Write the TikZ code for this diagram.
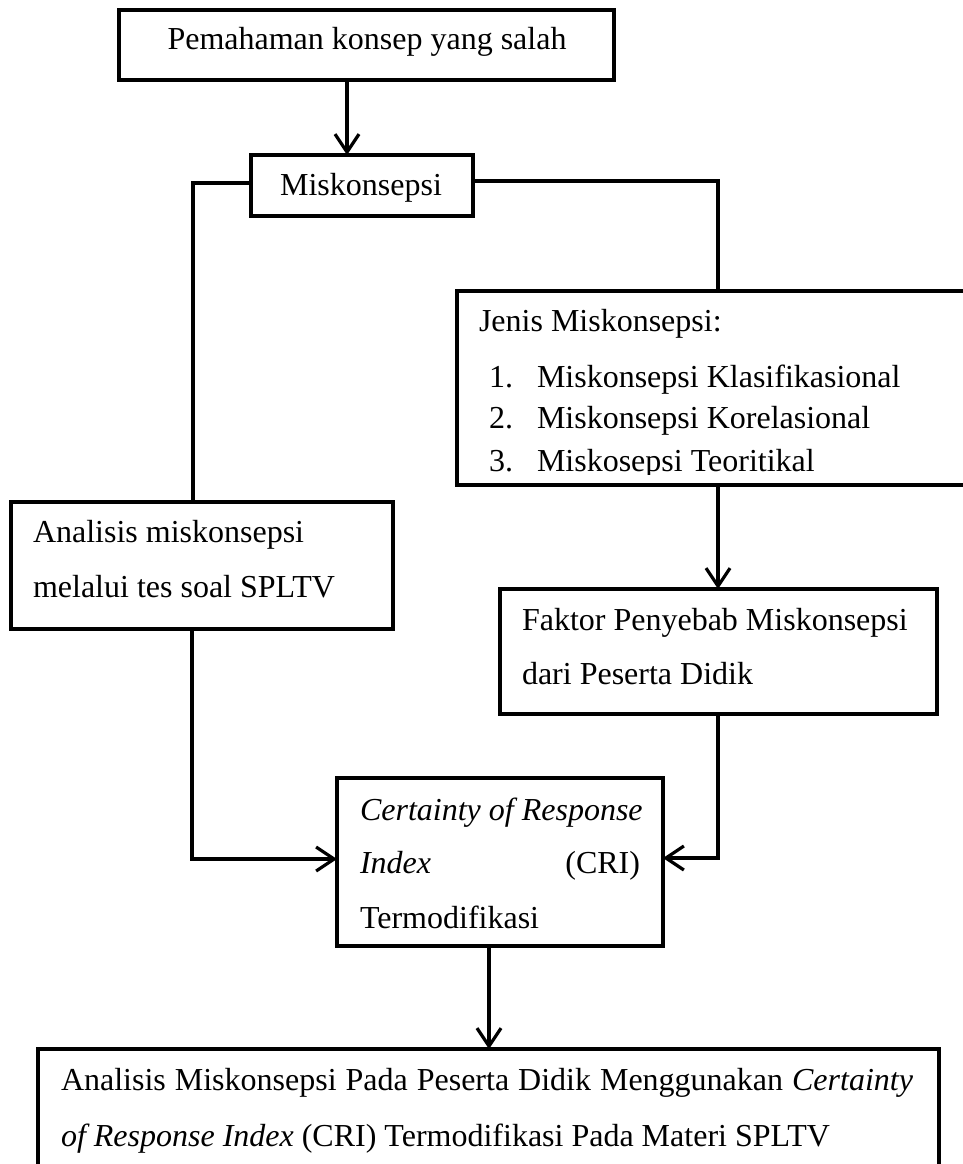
\documentclass[tikz,border=0pt]{standalone}
\usepackage{fontspec}
\setmainfont{Liberation Serif}
\usetikzlibrary{arrows.meta}
\tikzset{
  box/.style={draw, line width=3.8pt, inner sep=0pt, outer sep=0pt, minimum width=#1},
  conn/.style={line width=3.2pt, line join=miter},
  arr/.style={conn, -{Straight Barb[length=18pt,width=24pt]}},
  txt/.style={inner sep=0pt, outer sep=0pt, font=\fontsize{32}{38}\selectfont},
}
\begin{document}
\begin{tikzpicture}[x=1pt,y=-1pt]
\clip (0,0) rectangle (963,1164);
\fill[white] (0,0) rectangle (963,1164);
% boxes
\node[box=495pt, minimum height=70pt] (box1) at (366.5,45) {};
\node[box=222pt, minimum height=61pt] (misk) at (362,185.5) {};
\node[box=543pt, minimum height=194pt] (jenis) at (728.5,388) {};
\node[box=382pt, minimum height=127pt] (anal) at (202,565.5) {};
\node[box=437pt, minimum height=125pt] (faktor) at (718.5,651.5) {};
\node[box=326pt, minimum height=168pt] (cri) at (500,862) {};
\node[box=901pt, minimum height=151pt] (bottom) at (488.5,1124.5) {};
% texts
\node[txt, anchor=base] (t1) at (367,50) {Pemahaman konsep yang salah};
\node[txt, anchor=base] (t2) at (361,195) {Miskonsepsi};
\begin{scope}
\clip (440,280) rectangle (963,474);
\node[txt, anchor=base west] (j0) at (479,331) {Jenis Miskonsepsi:};
\node[txt, anchor=base west] (j1n) at (489,387) {1.};
\node[txt, anchor=base west] (j1) at (537,387) {Miskonsepsi Klasifikasional};
\node[txt, anchor=base west] (j2n) at (489,428) {2.};
\node[txt, anchor=base west] (j2) at (537,428) {Miskonsepsi Korelasional};
\node[txt, anchor=base west] (j3n) at (489,471) {3.};
\node[txt, anchor=base west] (j3) at (537,471) {Miskosepsi Teoritikal};
\end{scope}
\node[txt, anchor=base west] (a1) at (33,542) {Analisis miskonsepsi};
\node[txt, anchor=base west] (a2) at (33,597) {melalui tes soal SPLTV};
\node[txt, anchor=base west] (f1) at (522,630) {Faktor Penyebab Miskonsepsi};
\node[txt, anchor=base west] (f2) at (522,684) {dari Peserta Didik};
\node[txt, anchor=base west] (c1) at (360,820) {\textit{Certainty of Response}};
\node[txt, anchor=base west] (c2) at (360,873) {\textit{Index}};
\node[txt, anchor=base east] (c2b) at (640,873) {(CRI)};
\node[txt, anchor=base west] (c3) at (360,928) {Termodifikasi};
\node[txt, anchor=base west] (b1) at (61,1090) {\makebox[852pt][s]{Analisis Miskonsepsi Pada Peserta Didik Menggunakan \textit{Certainty}}};
\node[txt, anchor=base west] (b2) at (61,1146) {\textit{of Response Index} (CRI) Termodifikasi Pada Materi SPLTV};
% connector coordinates
\coordinate (xa) at (347,0);
\coordinate (lb) at (193,183);
\coordinate (rb) at (718,181);
\coordinate (lc) at (192,859);
\coordinate (rc) at (718,858);
\coordinate (bc) at (489,0);
% connectors
\draw[arr] (box1.south -| xa) -- (misk.north -| xa);
\draw[conn] (misk.west |- lb) -- (lb) -- (lb |- anal.north);
\draw[conn] (misk.east |- rb) -- (rb) -- (rb |- jenis.north);
\draw[arr] (jenis.south -| rb) -- (faktor.north -| rb);
\draw[arr] (anal.south -| lc) -- (lc) -- (cri.west |- lc);
\draw[arr] (faktor.south -| rc) -- (rc) -- (cri.east |- rc);
\draw[arr] (cri.south -| bc) -- (bottom.north -| bc);
\end{tikzpicture}
\end{document}
